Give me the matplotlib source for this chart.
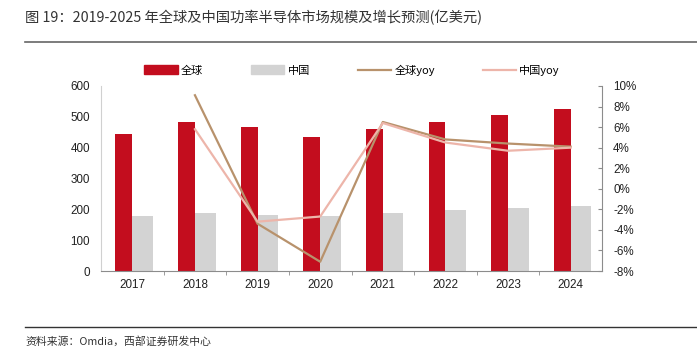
import numpy as np
import matplotlib
matplotlib.use('Agg')
import matplotlib.pyplot as plt
from matplotlib.lines import Line2D
from matplotlib.patches import Patch
from matplotlib.ticker import FuncFormatter, FixedLocator

plt.rcParams['font.family'] = ['Noto Sans CJK SC', 'DejaVu Sans']

# data
years = ['2017', '2018', '2019', '2020', '2021', '2022', '2023', '2024']
global_size = [443, 483, 466, 434, 461, 483, 505, 524]
china_size = [178, 188, 183, 179, 188, 197, 204, 212]
# yoy starts in 2018
yoy_years = ['2018', '2019', '2020', '2021', '2022', '2023', '2024']
global_yoy = [9.1, -3.4, -7.1, 6.5, 4.8, 4.4, 4.1]
china_yoy = [5.8, -3.2, -2.7, 6.4, 4.5, 3.7, 4.0]

RED = '#C30D1E'
GREY = '#D3D3D3'
BROWN = '#B8926C'
PINK = '#EDB5AA'
SPINE = '#8C8C8C'
num_font = ['Liberation Sans', 'DejaVu Sans']

W, H = 697, 361
fig = plt.figure(figsize=(W / 100, H / 100), dpi=100)

# header / footer
fig.text(25 / W, 1 - 18 / H, '图 19：2019-2025 年全球及中国功率半导体市场规模及增长预测(亿美元)',
         fontsize=10.3, color='#333333', va='center', ha='left')
fig.add_artist(Line2D([25 / W, 1], [1 - 42 / H] * 2, color='#666666', lw=1.2))
fig.add_artist(Line2D([25 / W, 1], [1 - 327 / H] * 2, color='#333333', lw=1.0))
fig.text(25 / W, 1 - 341 / H, '资料来源：Omdia，西部证券研发中心',
         fontsize=7.8, color='#333333', va='center', ha='left')

ax = fig.add_axes([101 / W, 1 - 271 / H, 501 / W, 185 / H])
x = np.arange(len(years))
ax.bar(x - 0.27, global_size, width=0.27, align='edge', color=RED, zorder=2)
ax.bar(x, china_size, width=0.33, align='edge', color=GREY, zorder=2)

ax.set_xlim(-0.5, len(years) - 0.5)
ax.set_ylim(0, 600)
ax.set_yticks(np.arange(0, 601, 100))
ax.set_xticks(x)
ax.set_xticklabels(years)
ax.xaxis.set_minor_locator(FixedLocator(np.arange(0.5, len(years) - 1, 1.0)))
ax.tick_params(axis='x', which='major', length=0, pad=6)
ax.tick_params(axis='x', which='minor', length=3, color=SPINE, direction='out')
ax.tick_params(axis='y', length=0, pad=8)
for lab in ax.get_xticklabels() + ax.get_yticklabels():
    lab.set_family(num_font)
    lab.set_fontsize(8.4)
    lab.set_color('#222222')
ax.spines['top'].set_visible(False)
ax.spines['right'].set_visible(False)
ax.spines['left'].set_color('#D0D0D0')
ax.spines['bottom'].set_color(SPINE)
ax.spines['bottom'].set_zorder(5)

ax2 = ax.twinx()
xi = [years.index(y) for y in yoy_years]
ax2.plot(xi, global_yoy, color=BROWN, lw=1.6, zorder=3)
ax2.plot(xi, china_yoy, color=PINK, lw=1.6, zorder=3)
ax2.set_ylim(-8, 10)
ax2.set_yticks(np.arange(-8, 11, 2))
ax2.yaxis.set_major_formatter(FuncFormatter(lambda v, p: f'{v:.0f}%'))
ax2.tick_params(axis='y', length=3, direction='in', color=SPINE, pad=8)
for lab in ax2.get_yticklabels():
    lab.set_family(num_font)
    lab.set_fontsize(8.4)
    lab.set_color('#222222')
for s in ['top', 'left', 'bottom']:
    ax2.spines[s].set_visible(False)
ax2.spines['right'].set_color(SPINE)

handles = [Patch(color=RED), Patch(color=GREY),
           Line2D([], [], color=BROWN, lw=1.6), Line2D([], [], color=PINK, lw=1.6)]
labels = ['全球', '中国', '全球yoy', '中国yoy']
fig.legend(handles, labels, loc='center', bbox_to_anchor=(352 / W, 1 - 70 / H),
           ncol=4, frameon=False, fontsize=8, handlelength=3.0, handleheight=0.8,
           handletextpad=0.3, columnspacing=4.3)

fig.savefig('out.png', dpi=100)
